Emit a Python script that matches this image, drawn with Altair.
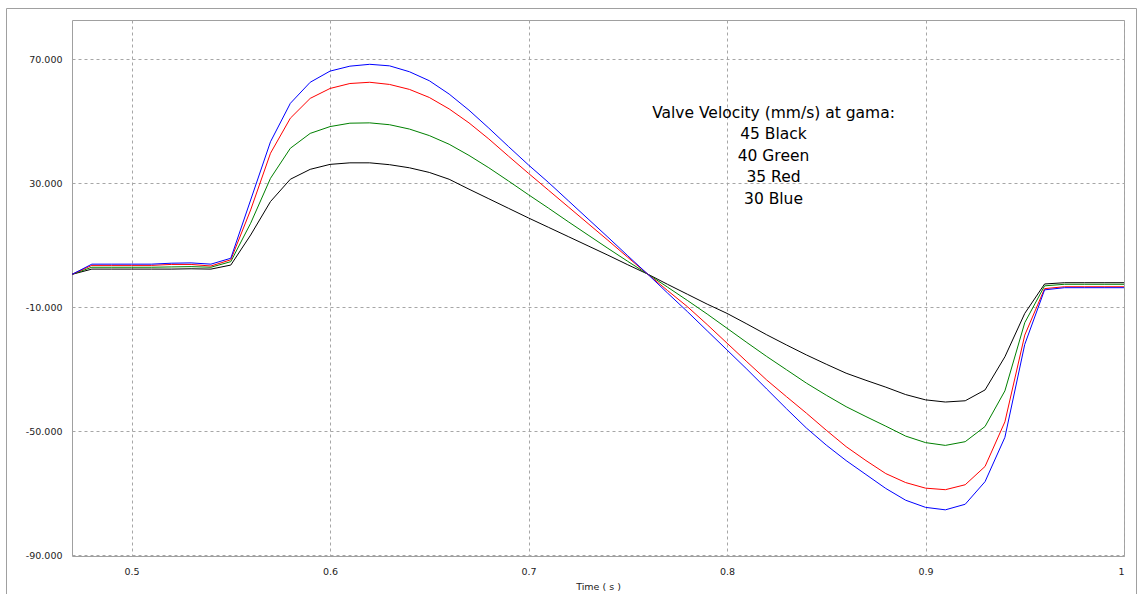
import altair as alt
import pandas as pd

# ---- data ----
TIME = [0.47, 0.48, 0.49, 0.50, 0.51, 0.52, 0.53, 0.54, 0.55, 0.56,
        0.57, 0.58, 0.59, 0.60, 0.61, 0.62, 0.63, 0.64, 0.65, 0.66,
        0.67, 0.68, 0.69, 0.70, 0.71, 0.72, 0.73, 0.74, 0.75, 0.76,
        0.77, 0.78, 0.79, 0.80, 0.81, 0.82, 0.83, 0.84, 0.85, 0.86,
        0.87, 0.88, 0.89, 0.90, 0.91, 0.92, 0.93, 0.94, 0.95, 0.96,
        0.97, 0.98, 0.99, 1.00]

BLACK_45 = [0.6, 2.3, 2.3, 2.3, 2.3, 2.3, 2.4, 2.3, 3.6, 13.3,
            24.1, 31.3, 34.5, 36.1, 36.6, 36.6, 36.0, 35.0, 33.5, 31.3,
            28.1, 25.0, 21.9, 18.8, 15.8, 12.8, 9.8, 6.8, 3.7, 0.7,
            -2.6, -5.8, -9.0, -12.0, -15.4, -18.9, -22.2, -25.4, -28.4, -31.3,
            -33.6, -35.8, -38.2, -39.9, -40.6, -40.2, -36.7, -26.0, -12.0, -2.5,
            -2.1, -2.1, -2.1, -2.1]

GREEN_40 = [0.6, 2.9, 2.9, 2.9, 2.9, 3.0, 3.1, 2.9, 4.7, 17.1,
            31.6, 41.3, 46.1, 48.3, 49.4, 49.5, 48.9, 47.5, 45.4, 42.6,
            39.0, 35.0, 30.7, 26.3, 22.0, 17.6, 13.3, 9.0, 4.8, 0.7,
            -3.5, -7.8, -12.2, -16.8, -21.4, -25.9, -30.2, -34.5, -38.4, -42.1,
            -45.3, -48.4, -51.6, -53.7, -54.6, -53.4, -48.5, -37.0, -15.0, -3.1,
            -2.6, -2.6, -2.6, -2.6]

RED_35 = [0.6, 3.5, 3.5, 3.5, 3.5, 3.8, 3.8, 3.3, 5.3, 21.4,
          39.7, 51.0, 57.4, 60.6, 62.2, 62.6, 61.9, 60.3, 57.7, 54.0,
          49.5, 44.3, 38.7, 33.2, 27.8, 22.4, 17.0, 11.6, 6.1, 0.7,
          -4.6, -9.8, -15.6, -21.6, -27.6, -33.5, -38.9, -44.2, -49.7, -55.0,
          -59.5, -63.7, -66.6, -68.4, -68.9, -67.3, -61.4, -47.0, -19.0, -4.0,
          -3.4, -3.4, -3.4, -3.4]

BLUE_30 = [0.6, 3.9, 3.9, 3.9, 3.9, 4.2, 4.3, 3.9, 5.8, 24.6,
           43.4, 55.8, 62.6, 66.2, 67.8, 68.4, 67.9, 66.0, 63.1, 58.8,
           53.6, 47.8, 41.8, 35.9, 30.3, 24.4, 18.5, 12.6, 6.6, 0.7,
           -5.4, -11.4, -17.6, -23.8, -30.0, -36.4, -42.8, -49.0, -54.5, -59.5,
           -64.0, -68.5, -72.3, -74.6, -75.4, -73.6, -66.3, -52.0, -22.0, -4.4,
           -3.7, -3.7, -3.7, -3.7]

SERIES_NAMES = ["45 Black", "40 Green", "35 Red", "30 Blue"]
SERIES_COLORS = ["#000000", "#008000", "#ff0000", "#0000ff"]
X_TICKS = [0.5, 0.6, 0.7, 0.8, 0.9, 1.0]
Y_TICKS = [-90, -50, -10, 30, 70]
X_TITLE = "Time ( s )"
ANNOTATION = ["Valve Velocity (mm/s) at gama:", "45 Black", "40 Green", "35 Red", "30 Blue"]

rows = []
for name, vals in zip(SERIES_NAMES, [BLACK_45, GREEN_40, RED_35, BLUE_30]):
    assert len(vals) == len(TIME)
    for t, v in zip(TIME, vals):
        rows.append({"t": t, "v": v, "series": name})
df = pd.DataFrame(rows)

PLOT_W, PLOT_H = 1052, 536
FONT = "DejaVu Sans"
GRID = "#a6a6a6"

x_enc = alt.X(
    "t:Q",
    scale=alt.Scale(domain=[0.47, 1.0], nice=False, zero=False),
    axis=alt.Axis(values=X_TICKS, format="~g", title=X_TITLE, grid=True,
                  gridDash=[3, 3], gridColor=GRID, gridWidth=1,
                  domain=False, ticks=False, tickSize=0, labelPadding=10,
                  labelFont=FONT, labelFontSize=9.5, labelColor="#222222",
                  titleFont=FONT, titleFontSize=9.5, titleFontWeight="normal",
                  titleColor="#222222", titleY=33, titleBaseline="alphabetic"),
)
y_enc = alt.Y(
    "v:Q",
    scale=alt.Scale(domain=[-90.3, 82.7], nice=False, zero=False),
    axis=alt.Axis(values=Y_TICKS,
                  labelExpr="replace(format(datum.value, '.3f'), '\u2212', '-')",
                  title=None, grid=True,
                  gridDash=[3, 3], gridColor=GRID, gridWidth=1,
                  domain=False, ticks=False, tickSize=0, labelPadding=10,
                  labelFont=FONT, labelFontSize=9.5, labelColor="#222222"),
)

lines = alt.Chart(df).mark_line(strokeWidth=1, clip=True).encode(
    x=x_enc,
    y=y_enc,
    color=alt.Color("series:N",
                    scale=alt.Scale(domain=SERIES_NAMES, range=SERIES_COLORS),
                    legend=None),
    order=alt.Order("t:Q"),
)

annotation = alt.Chart(pd.DataFrame({"a": [0]})).mark_text(
    text=ANNOTATION, font=FONT, fontSize=15.5, align="center",
    baseline="alphabetic", lineHeight=21.6, color="#000000",
).encode(x=alt.value(701.5), y=alt.value(97.5))

frame = alt.Chart(pd.DataFrame({"a": [0]})).mark_rect(
    fill=None, stroke="#a0a0a0", strokeWidth=1, clip=False,
).encode(x=alt.value(-65.5), x2=alt.value(1064.5),
         y=alt.value(-11.5), y2=alt.value(600))

chart = alt.layer(frame, lines, annotation).properties(
    width=PLOT_W, height=PLOT_H,
    autosize=alt.AutoSizeParams(type="none"),
    padding={"left": 72, "top": 20, "right": 18, "bottom": 38},
    background="white",
).configure_view(stroke="#a0a0a0", strokeWidth=1)

chart.save("out.html", embed_options={"renderer": "svg", "actions": False})
